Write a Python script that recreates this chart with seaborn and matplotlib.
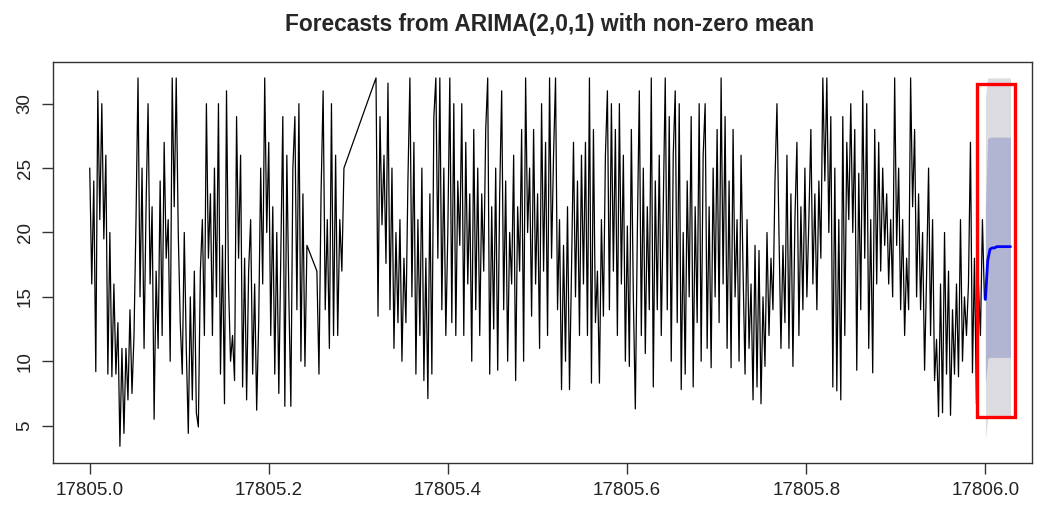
import numpy as np
import pandas as pd
import matplotlib
matplotlib.use("Agg")
import matplotlib.pyplot as plt
import seaborn as sns
from matplotlib.patches import Rectangle

seg1_start, seg1_end = 17805.000, 17805.2425
seg1_vals = [
    25, 16, 24, 9.2, 31, 21, 30, 19.5, 26, 9, 20, 8.8, 16, 9, 13, 3.4, 11, 4.4,
    11, 7, 14, 7.5, 12, 21, 32, 15, 25, 11, 22, 30, 16, 22, 5.5, 17, 11, 24,
    12, 27, 18, 21, 10, 32, 22, 32, 20, 13, 9, 20, 11, 4.4, 15, 7, 17, 6, 4.9,
    17, 21, 12, 30, 18, 23, 12, 25, 15, 30, 9, 19, 6.7, 31, 16, 10, 12, 8.5,
    29, 18, 26, 8, 18, 7, 17, 21, 9, 16, 6.2, 13, 25, 16, 32, 20, 27, 12, 22,
    9, 20, 7.5, 18, 29, 6.5, 26, 15, 6.5, 25, 29, 14, 30, 10, 23, 9.6, 19,
]
seg2_start, seg2_end = 17805.2536, 17805.2838
seg2_vals = [17, 9, 23, 31, 14, 21, 11, 30, 12, 26, 12, 21, 17, 25]
seg3_start, seg3_end = 17805.3196, 17805.9989
seg3_vals = [
    32, 13.5, 29, 20.6, 26, 17.6, 31.6, 14, 25, 11, 20, 13, 21, 10, 18, 13, 24,
    32, 15, 27, 9, 21, 12, 25, 8.5, 18, 7.1, 23, 9, 29, 32, 18, 32, 14, 25, 12,
    20, 32, 13, 30, 12, 24, 19, 30, 12, 27, 16, 23, 10, 28, 14, 25, 12, 23, 17,
    28, 32, 9, 22, 12.5, 25, 9.3, 23, 31, 14, 24, 10, 20, 16, 26, 8.5, 22, 17,
    28, 10, 32, 20, 25, 13.5, 28, 16, 23, 11, 30, 17, 27, 12, 32, 18, 26, 32,
    14, 21, 7.8, 19, 10, 22, 7.8, 17, 27, 15, 24, 12, 26, 16, 27, 12, 32, 8.3,
    28, 13, 17, 8.3, 21, 13.5, 26, 31, 14, 30, 17, 28, 12, 30, 16, 26, 10,
    20.5, 9.6, 28, 15, 6.3, 20, 31, 12, 25, 10.6, 22, 14, 32, 8, 24, 14, 26,
    12, 22, 32, 14, 29, 10, 26, 31, 13, 30, 7.8, 20, 9, 24, 15, 29, 8, 22, 13,
    30, 10, 26, 30, 11, 22, 9.5, 25, 15, 28, 13, 32, 16, 29, 11, 24, 9.5, 28,
    15, 21, 10, 26, 17, 9, 21, 11, 16, 7, 19, 8, 18.6, 6.7, 15, 9.6, 20, 12,
    18, 14, 24, 30, 20, 11, 19, 13, 26, 11, 23, 9.6, 21, 27, 12, 22, 14, 25,
    15, 21, 28, 16, 23, 14, 24, 18, 32, 24, 32, 20, 29, 8, 25, 7.7, 21, 7, 29,
    12, 27, 21, 30, 20, 28, 9.3, 24.6, 14, 31, 18, 30, 11, 21, 9.1, 28, 16, 27,
    17, 25, 19, 23, 16, 21, 15, 32, 19, 25, 14, 21, 12, 18, 14, 32, 22, 28, 15,
    23, 14, 20, 9.3, 16.6, 25, 12, 21, 8.5, 11.7, 5.7, 16, 6, 20, 9, 17, 5.8,
    14, 9, 16, 8.8, 21, 10, 15, 12, 16, 27, 9.1, 18, 6.7, 16, 12, 21, 14.8,
]

# 预测部分：均值与 80% / 95% 区间
fc_start, fc_end = 17806.000, 17806.028
fc_mean = [14.8, 17.8, 18.7, 18.8, 18.8, 18.9, 18.9, 18.9, 18.9, 18.9, 18.9, 18.9]
fc_lo80 = [8.3, 10.2, 10.3, 10.3, 10.3, 10.3, 10.3, 10.3, 10.3, 10.3, 10.3, 10.3]
fc_hi80 = [22.0, 27.3, 27.4, 27.4, 27.4, 27.4, 27.4, 27.4, 27.4, 27.4, 27.4, 27.4]
fc_lo95 = [3.9, 5.6, 5.7, 5.7, 5.7, 5.7, 5.7, 5.7, 5.7, 5.7, 5.7, 5.7]
fc_hi95 = [30.5, 32.0, 32.0, 32.0, 32.0, 32.0, 32.0, 32.0, 32.0, 32.0, 32.0, 32.0]

# 标注框（红色矩形）所框的范围
box_x0, box_x1 = 17805.991, 17806.0335
box_y0, box_y1 = 5.65, 31.53

x_ticks = [17805.0, 17805.2, 17805.4, 17805.6, 17805.8, 17806.0]
y_ticks = [5, 10, 15, 20, 25, 30]

title = "Forecasts from ARIMA(2,0,1) with non-zero mean"


def build_series():
    t1 = np.linspace(seg1_start, seg1_end, len(seg1_vals))
    t2 = np.linspace(seg2_start, seg2_end, len(seg2_vals))
    t3 = np.linspace(seg3_start, seg3_end, len(seg3_vals))
    obs = pd.DataFrame({
        "time": np.concatenate([t1, t2, t3]),
        "value": seg1_vals + seg2_vals + seg3_vals,
    })
    fc = pd.DataFrame({
        "time": np.linspace(fc_start, fc_end, len(fc_mean)),
        "mean": fc_mean,
        "lo80": fc_lo80, "hi80": fc_hi80,
        "lo95": fc_lo95, "hi95": fc_hi95,
    })
    return obs, fc


def plot_forecast(obs, fc, output_path="out.png"):
    sns.set_theme(style="ticks")
    plt.rcParams["font.family"] = ["Liberation Sans", "DejaVu Sans"]

    fig = plt.figure(figsize=(10.46, 5.08), dpi=100)
    ax = fig.add_axes([0.0507, 0.0886, 0.9359, 0.7894])

    # 区间阴影
    ax.fill_between(fc["time"], fc["lo95"], fc["hi95"], color="#DBDBE0", lw=0)
    ax.fill_between(fc["time"], fc["lo80"], fc["hi80"], color="#B1B5D1", lw=0)

    sns.lineplot(data=obs, x="time", y="value", ax=ax, color="black",
                 lw=0.9, sort=False, estimator=None)
    sns.lineplot(data=fc, x="time", y="mean", ax=ax, color="#0000FF",
                 lw=2, sort=False, estimator=None)

    ax.add_patch(Rectangle((box_x0, box_y0), box_x1 - box_x0, box_y1 - box_y0,
                           fill=False, edgecolor="#FF0000", lw=2.4, zorder=5))

    ax.set_xlim(17804.959, 17806.052)
    ax.set_ylim(2.1, 33.24)
    ax.set_xticks(x_ticks)
    ax.set_xticklabels([f"{v:.1f}" for v in x_ticks])
    ax.set_yticks(y_ticks)
    ax.set_yticklabels([str(v) for v in y_ticks], rotation=90, va="center")
    ax.tick_params(axis="both", direction="out", length=8, width=1,
                   color="#333333", labelsize=13.5, labelcolor="#222222", pad=6)
    ax.set_xlabel("")
    ax.set_ylabel("")
    for sp in ax.spines.values():
        sp.set_visible(True)
        sp.set_color("#333333")
        sp.set_linewidth(1)

    fig.suptitle(title, x=0.525, y=0.975, fontsize=16.4, fontweight="bold")

    fig.savefig(output_path, dpi=100)
    plt.close(fig)


def main():
    obs, fc = build_series()
    plot_forecast(obs, fc)


if __name__ == "__main__":
    main()
